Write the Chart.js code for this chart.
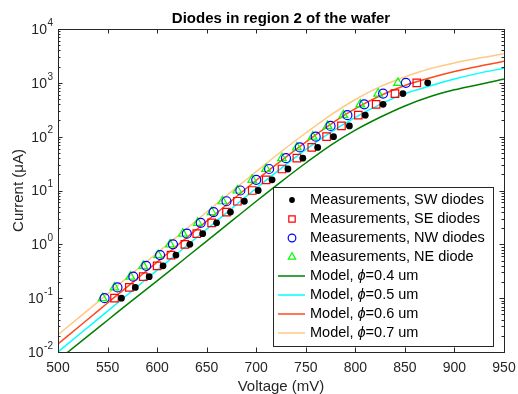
<!DOCTYPE html>
<html><head><meta charset="utf-8">
<script src="https://cdn.jsdelivr.net/npm/chart.js@4.4.1/dist/chart.umd.min.js"></script>
<style>html,body{margin:0;padding:0;background:#fff;}canvas{display:block;}</style>
</head><body>
<canvas id="c" width="518" height="394"></canvas>
<script>
// ---- data (current in µA, voltage in mV) ----
const measCurrent = [0.1, 0.158, 0.251, 0.398, 0.631, 1, 1.58, 2.51, 3.98, 6.31, 10, 15.8, 25.1, 39.8, 63.1, 100, 158, 251, 398, 631, 1000];
const voltSW = [564, 578, 592, 606, 619, 633, 646, 660, 674, 688, 702, 716, 732, 747, 762, 778, 794, 810, 828, 848, 873];
const voltSE = [557, 572, 586, 600, 614, 628, 640, 655, 670, 681, 696, 710, 726, 741, 756, 771, 786, 803, 821, 840, 862];
const voltNW = [547, 560, 576, 589, 603, 616, 630, 644, 657, 670, 684, 700, 713, 730, 744, 760, 775, 792, 809, 828, 851];
const voltNE = [545, 557, 573, 586, 601, 613, 626, 641, 655, 666, 681, 696, 710, 726, 741, 757, 772, 788, 805, 823, 843];

const modelVoltage = [500, 525, 550, 575, 600, 625, 650, 675, 700, 725, 750, 775, 800, 825, 850, 875, 900, 925, 950];
const model04 = [0.0071, 0.0166, 0.0389, 0.0912, 0.209, 0.490, 1.15, 2.69, 6.31, 14.5, 32.4, 69.2, 132, 229, 372, 550, 741, 933, 1175];
const model05 = [0.0100, 0.0240, 0.0575, 0.138, 0.331, 0.794, 1.91, 4.57, 11.0, 25.7, 57.5, 120, 229, 398, 631, 871, 1175, 1514, 1862];
const model06 = [0.0141, 0.0339, 0.0813, 0.195, 0.468, 1.12, 2.69, 6.46, 15.5, 35.5, 79.4, 170, 331, 575, 891, 1230, 1622, 2042, 2512];
const model07 = [0.0209, 0.0501, 0.120, 0.288, 0.692, 1.66, 3.98, 9.55, 22.4, 52.5, 117, 251, 490, 851, 1288, 1820, 2344, 2884, 3467];

const xTickValues = [500, 550, 600, 650, 700, 750, 800, 850, 900, 950];
const yTickExponents = [-2, -1, 0, 1, 2, 3, 4];

const labels = ['Measurements, SW diodes', 'Measurements, SE diodes', 'Measurements, NW diodes', 'Measurements, NE diode',
  'Model, \u03D5=0.4 um', 'Model, \u03D5=0.5 um', 'Model, \u03D5=0.6 um', 'Model, \u03D5=0.7 um'];
const titleText = 'Diodes in region 2 of the wafer';
const xTitle = 'Voltage (mV)';
const yTitle = 'Current (\u03BCA)';

// ---- styling ----
const FONT = "'Liberation Sans', Arial, sans-serif";
const AX = '#262626';
const pts = (xs, ys) => xs.map((x, i) => ({x: x, y: ys[i]}));

function markerSet(label, xs, style, r, stroke, fill) {
  return {label, data: pts(xs, measCurrent), showLine: false,
    pointStyle: style, pointRadius: r, pointHoverRadius: r,
    pointBorderColor: stroke, pointBackgroundColor: fill, pointBorderWidth: fill === 'transparent' ? 1.2 : 0,
    borderColor: stroke, backgroundColor: fill};
}
function modelSet(label, ys, color) {
  return {label, data: pts(modelVoltage, ys), showLine: true, pointRadius: 0, pointHoverRadius: 0,
    borderColor: color, backgroundColor: color, borderWidth: 1.5, fill: false,
    cubicInterpolationMode: 'monotone'};
}

const datasets = [
  markerSet(labels[0], voltSW, 'circle', 3.4, '#000000', '#000000'),
  markerSet(labels[1], voltSE, 'rect', 5.3, '#FF0000', 'transparent'),
  markerSet(labels[2], voltNW, 'circle', 4.5, '#0000FF', 'transparent'),
  markerSet(labels[3], voltNE, 'triangle', 5, '#00FF00', 'transparent'),
  modelSet(labels[4], model04, '#008000'),
  modelSet(labels[5], model05, '#00FFFF'),
  modelSet(labels[6], model06, '#FF4A1A'),
  modelSet(labels[7], model07, '#FFC982'),
];

function drawMarker(ctx, style, x, y, r, stroke, fill, lw) {
  ctx.save();
  ctx.beginPath();
  if (style === 'circle') ctx.arc(x, y, r, 0, Math.PI * 2);
  else if (style === 'rect') { const s = r * Math.SQRT1_2; ctx.rect(x - s, y - s, 2 * s, 2 * s); }
  else if (style === 'triangle') {
    for (let k = 0; k < 3; k++) { const a = k * 2 * Math.PI / 3; const px = x + Math.sin(a) * r, py = y - Math.cos(a) * r; k ? ctx.lineTo(px, py) : ctx.moveTo(px, py); }
    ctx.closePath();
  }
  if (fill !== 'transparent') { ctx.fillStyle = fill; ctx.fill(); }
  if (lw > 0) { ctx.strokeStyle = stroke; ctx.lineWidth = lw; ctx.stroke(); }
  ctx.restore();
}

const matlabAxes = {
  id: 'matlabAxes',
  afterDatasetsDraw(chart) {
    const ctx = chart.ctx, a = chart.chartArea, xs = chart.scales.x, ys = chart.scales.y;
    ctx.save();
    ctx.strokeStyle = AX; ctx.lineWidth = 1;
    // box
    ctx.strokeRect(Math.round(a.left) + 0.5, Math.round(a.top) + 0.5, Math.round(a.right - a.left), Math.round(a.bottom - a.top));
    ctx.beginPath();
    xTickValues.forEach(v => {
      const px = Math.round(xs.getPixelForValue(v)) + 0.5;
      ctx.moveTo(px, a.bottom); ctx.lineTo(px, a.bottom - 4.5);
      ctx.moveTo(px, a.top); ctx.lineTo(px, a.top + 4.5);
    });
    yTickExponents.forEach(e => {
      const py = Math.round(ys.getPixelForValue(Math.pow(10, e))) + 0.5;
      ctx.moveTo(a.left, py); ctx.lineTo(a.left + 4.5, py);
      ctx.moveTo(a.right, py); ctx.lineTo(a.right - 4.5, py);
      if (e < 4) for (let m = 2; m <= 9; m++) {
        const q = Math.round(ys.getPixelForValue(m * Math.pow(10, e))) + 0.5;
        ctx.moveTo(a.left, q); ctx.lineTo(a.left + 2.5, q);
        ctx.moveTo(a.right, q); ctx.lineTo(a.right - 2.5, q);
      }
    });
    ctx.stroke();
    // y tick labels 10^e
    ctx.fillStyle = AX; ctx.textBaseline = 'middle';
    yTickExponents.forEach(e => {
      const py = ys.getPixelForValue(Math.pow(10, e));
      const exp = String(e);
      ctx.font = '10px ' + FONT;
      const ew = ctx.measureText(exp).width;
      ctx.textAlign = 'right';
      ctx.fillText(exp, 53, py - 6);
      ctx.font = '14px ' + FONT;
      ctx.fillText('10', 53 - ew - 0.5, py + 1);
    });
    // legend
    const L = 273, T = 187, R = 493, B = 346;
    ctx.fillStyle = '#ffffff';
    ctx.fillRect(L, T, R - L, B - T);
    ctx.strokeStyle = AX; ctx.lineWidth = 1;
    ctx.strokeRect(L + 0.5, T + 0.5, R - L, B - T);
    chart.data.datasets.forEach((d, i) => {
      const cy = 200 + i * 19;
      if (d.showLine) {
        ctx.beginPath(); ctx.strokeStyle = d.borderColor; ctx.lineWidth = 1.5;
        ctx.moveTo(278, cy); ctx.lineTo(305, cy); ctx.stroke();
      } else {
        drawMarker(ctx, d.pointStyle, 292, cy, d.pointRadius * 0.85, d.pointBorderColor, d.pointBackgroundColor, d.pointBorderWidth);
      }
      ctx.fillStyle = '#000'; ctx.textAlign = 'left'; ctx.textBaseline = 'middle';
      const parts = d.label.split('\u03D5');
      let x = 310;
      ctx.font = '14.5px ' + FONT;
      ctx.fillText(parts[0], x, cy); x += ctx.measureText(parts[0]).width;
      if (parts.length > 1) {
        ctx.font = 'italic 14.5px ' + FONT;
        ctx.fillText('\u03D5', x, cy); x += ctx.measureText('\u03D5').width;
        ctx.font = '14.5px ' + FONT;
        ctx.fillText(parts[1], x, cy);
      }
    });
    ctx.restore();
  }
};

new Chart(document.getElementById('c'), {
  type: 'scatter',
  data: {datasets},
  options: {
    responsive: false, animation: false, devicePixelRatio: 1,
    layout: {padding: {left: 0, right: 14, top: 0, bottom: 0}},
    plugins: {
      legend: {display: false}, tooltip: {enabled: false},
      title: {display: true, fullSize: false, text: titleText, color: '#000', font: {family: FONT, size: 15, weight: 'bold', lineHeight: 1.2}, padding: {top: 10, bottom: 1}},
    },
    scales: {
      x: {type: 'linear', min: 500, max: 950,
        afterBuildTicks: s => { s.ticks = xTickValues.map(v => ({value: v})); },
        afterFit: s => { s.height = 42; s.paddingLeft = 0; s.paddingRight = 0; },
        grid: {display: false, drawTicks: false}, border: {display: false},
        ticks: {color: AX, font: {family: FONT, size: 14}, padding: 8, maxRotation: 0, autoSkip: false},
        title: {display: true, text: xTitle, color: AX, font: {family: FONT, size: 15, lineHeight: 1}, padding: {top: 0, bottom: 0}}},
      y: {type: 'logarithmic', min: 0.01, max: 10000,
        afterFit: s => { s.width = 58; s.paddingTop = 0; s.paddingBottom = 0; },
        grid: {display: false, drawTicks: false}, border: {display: false},
        ticks: {display: false},
        title: {display: true, text: yTitle, color: AX, font: {family: FONT, size: 15, lineHeight: 1.2}, padding: {top: 10, bottom: 0}}}
    }
  },
  plugins: [matlabAxes]
});
</script>
</body></html>
